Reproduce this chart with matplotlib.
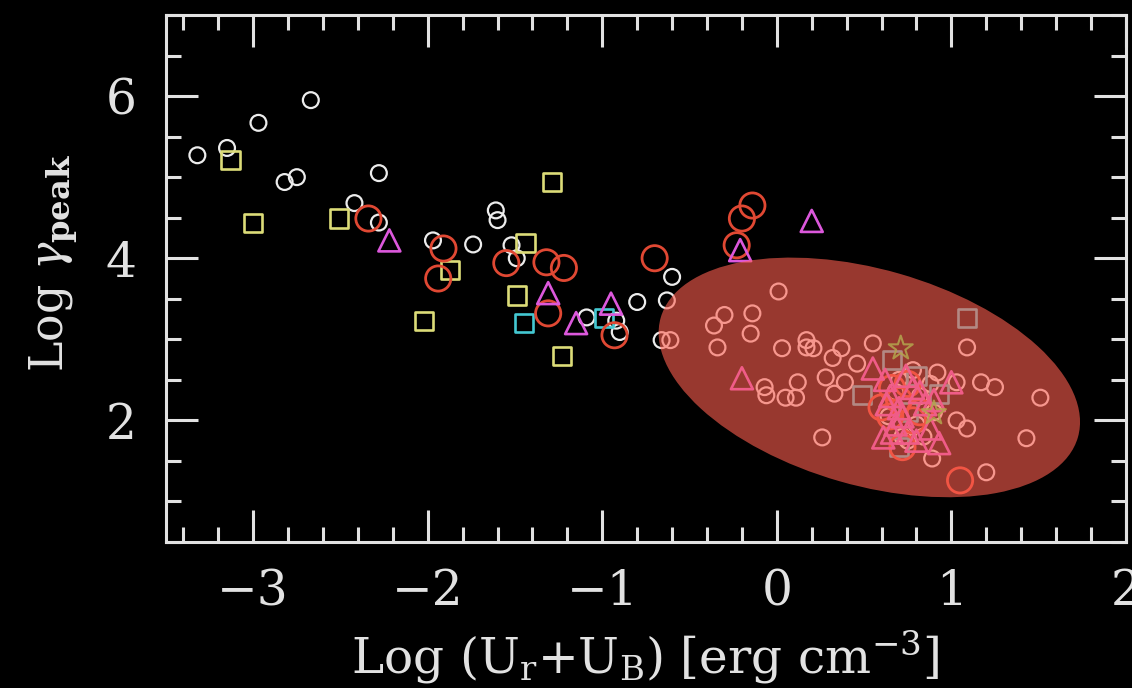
import matplotlib.pyplot as plt
from matplotlib.patches import Ellipse
from matplotlib.ticker import MultipleLocator
from matplotlib.transforms import ScaledTranslation

plt.rcParams['font.family'] = 'DejaVu Serif'
plt.rcParams['mathtext.fontset'] = 'dejavuserif'

# small open circles
white_x = [-3.32, -3.15, -2.97, -2.67, -2.82, -2.75, -2.28, -2.42, -2.28, -1.97, -1.74, -1.61,
           -1.60, -1.52, -1.49, -1.09, -0.92, -0.90, -0.80, -0.60, -0.63, -0.66, -0.61,
           0.01, -0.36, -0.30, -0.14, -0.15, -0.34, 0.03, 0.17, 0.17, 0.21, 0.37, 0.32, 0.46,
           0.55, 0.28, 0.39, 0.33, 0.12, 0.11, 0.05, -0.07, -0.06, 0.26, 1.09, 1.03, 1.17,
           1.25, 1.51, 1.43, 1.03, 1.09, 0.89, 1.20,
           0.78, 0.92, 0.82, 0.70, 0.88, 0.64, 0.90, 0.75, 0.84, 0.68, 0.80, 0.72]
white_y = [5.27, 5.36, 5.67, 5.95, 4.94, 5.00, 5.05, 4.68, 4.44, 4.22, 4.17, 4.59,
           4.47, 4.16, 4.00, 3.27, 3.23, 3.09, 3.46, 3.77, 3.48, 2.99, 2.99,
           3.59, 3.17, 3.30, 3.32, 3.07, 2.90, 2.89, 2.99, 2.90, 2.89, 2.89, 2.77, 2.70,
           2.95, 2.53, 2.47, 2.33, 2.47, 2.28, 2.28, 2.41, 2.31, 1.79, 2.90, 2.47, 2.47,
           2.41, 2.28, 1.78, 2.00, 1.90, 1.53, 1.36,
           2.62, 2.59, 2.30, 2.50, 2.45, 2.05, 2.10, 1.75, 1.80, 2.35, 1.95, 1.80]

# yellow squares
sq_x = [-3.13, -3.00, -2.51, -1.87, -2.02, -1.44, -1.49, -1.29, -1.23]
sq_y = [5.21, 4.44, 4.49, 3.85, 3.23, 4.19, 3.54, 4.94, 2.79]

# large red circles
red_x = [-2.34, -1.91, -1.94, -1.55, -1.32, -1.22, -1.31, -0.93, -0.70, -0.23, -0.20, -0.14,
         1.05, 0.60, 0.72, 0.66, 0.78, 0.70, 0.65, 0.82, 0.75]
red_y = [4.49, 4.12, 3.75, 3.94, 3.95, 3.88, 3.32, 3.05, 4.00, 4.16, 4.49, 4.65,
         1.26, 2.16, 1.67, 2.40, 2.00, 2.25, 2.05, 2.10, 2.45]

# magenta triangles
tri_x = [-2.22, -1.31, -1.15, -0.95, -0.21, 0.20, -0.20, 1.00,
         0.55, 0.61, 0.93, 0.65, 0.72, 0.78, 0.68, 0.85, 0.62, 0.75, 0.88,
         0.70, 0.80, 0.66, 0.82, 0.74, 0.90, 0.63]
tri_y = [4.22, 3.57, 3.20, 3.44, 4.10, 4.46, 2.52, 2.47,
         2.64, 1.79, 1.72, 2.30, 2.05, 2.40, 1.95, 2.20, 2.50, 1.85, 1.90,
         2.15, 1.75, 1.85, 2.35, 2.55, 2.25, 2.20]

# cyan squares
cy_x = [-1.45, -0.99, 1.09, 0.49, 0.93, 0.70, 0.66, 0.80, 0.75]
cy_y = [3.20, 3.26, 3.26, 2.31, 2.33, 1.67, 2.74, 2.55, 2.10]

# stars
star_x = [0.71, 0.90]
star_y = [2.89, 2.09]

# shaded region: centre in data units, axes in inches, angle in degrees
ell_center = (0.53, 2.53)
ell_size = (4.34, 2.16)
ell_angle = -16

fg = '#e2e2e2'

fig = plt.figure(figsize=(11.32, 6.88), dpi=100, facecolor='black')
ax = fig.add_axes([0.1466, 0.2122, 0.848, 0.766], facecolor='black')

ax.scatter(white_x, white_y, s=130, facecolors='none', edgecolors='#ececec', linewidths=1.6, zorder=2)
ax.scatter(sq_x, sq_y, s=170, marker='s', facecolors='none', edgecolors='#dcdc78', linewidths=1.9, zorder=2)
ax.scatter(cy_x, cy_y, s=170, marker='s', facecolors='none', edgecolors='#44c8d2', linewidths=1.9, zorder=2)
ax.scatter(red_x, red_y, s=330, facecolors='none', edgecolors='#e04833', linewidths=2.0, zorder=2)
ax.scatter(tri_x, tri_y, s=250, marker='^', facecolors='none', edgecolors='#dc58dc', linewidths=1.9, zorder=2)

ax.set_xlim(-3.5, 2)
ax.set_ylim(0.5, 7)

ell = Ellipse((0, 0), ell_size[0], ell_size[1], angle=ell_angle,
              transform=fig.dpi_scale_trans + ScaledTranslation(*ell_center, ax.transData),
              facecolor='#ff5f50', edgecolor='none', alpha=0.6, zorder=3)
ax.add_patch(ell)

# stars sit above the shading
ax.scatter(star_x, star_y, s=330, marker='*', facecolors='none', edgecolors='#b4a64e',
           linewidths=1.5, alpha=0.85, zorder=4)

for s in ax.spines.values():
    s.set_color(fg)
    s.set_linewidth(2.2)

ax.xaxis.set_major_locator(MultipleLocator(1))
ax.xaxis.set_minor_locator(MultipleLocator(0.2))
ax.yaxis.set_major_locator(MultipleLocator(2))
ax.yaxis.set_minor_locator(MultipleLocator(0.5))

ax.tick_params(which='both', direction='in', top=True, right=True, colors=fg, width=2.2, labelsize=35)
ax.tick_params(which='major', length=23)
ax.tick_params(which='minor', length=11)
ax.tick_params(axis='x', pad=19)
ax.tick_params(axis='y', pad=21)

ax.set_xlabel(r'Log (U$_{\rm r}$+U$_{\rm B}$) [erg cm$^{-3}$]', fontsize=35, color=fg, va='baseline')
ax.xaxis.set_label_coords(0.499, -0.249)
ax.set_ylabel(r'Log $\gamma_{\mathbf{peak}}$', fontsize=33, color=fg)
ax.yaxis.set_label_coords(-0.09, 0.53)

fig.savefig('out.png', dpi=100, facecolor='black')
